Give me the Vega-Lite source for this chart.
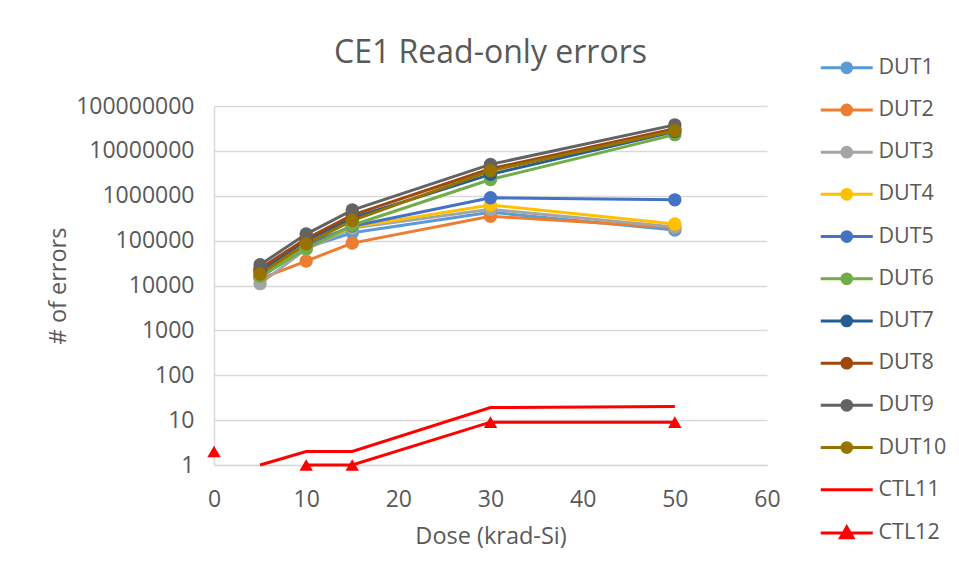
{
  "$schema": "https://vega.github.io/schema/vega-lite/v6.json",
  "autosize": {"type": "none"},
  "width": 553,
  "height": 359,
  "padding": {"left": 214, "top": 106, "right": 192, "bottom": 115},
  "background": "white",
  "title": {"text": "CE1 Read-only errors", "font": "Open Sans", "fontSize": 32, "fontWeight": "normal", "color": "#595959", "anchor": "middle", "offset": 30, "dy": 43},
  "data": {"values": [
    {"dose": 5, "errors": 15000, "series": "DUT1"},
    {"dose": 10, "errors": 70000, "series": "DUT1"},
    {"dose": 15, "errors": 150000, "series": "DUT1"},
    {"dose": 30, "errors": 430000, "series": "DUT1"},
    {"dose": 50, "errors": 172000, "series": "DUT1"},
    {"dose": 5, "errors": 14000, "series": "DUT2"},
    {"dose": 10, "errors": 35000, "series": "DUT2"},
    {"dose": 15, "errors": 88000, "series": "DUT2"},
    {"dose": 30, "errors": 350000, "series": "DUT2"},
    {"dose": 50, "errors": 195000, "series": "DUT2"},
    {"dose": 5, "errors": 11000, "series": "DUT3"},
    {"dose": 10, "errors": 65000, "series": "DUT3"},
    {"dose": 15, "errors": 190000, "series": "DUT3"},
    {"dose": 30, "errors": 500000, "series": "DUT3"},
    {"dose": 50, "errors": 200000, "series": "DUT3"},
    {"dose": 5, "errors": 17000, "series": "DUT4"},
    {"dose": 10, "errors": 75000, "series": "DUT4"},
    {"dose": 15, "errors": 200000, "series": "DUT4"},
    {"dose": 30, "errors": 620000, "series": "DUT4"},
    {"dose": 50, "errors": 235000, "series": "DUT4"},
    {"dose": 5, "errors": 20000, "series": "DUT5"},
    {"dose": 10, "errors": 80000, "series": "DUT5"},
    {"dose": 15, "errors": 210000, "series": "DUT5"},
    {"dose": 30, "errors": 900000, "series": "DUT5"},
    {"dose": 50, "errors": 810000, "series": "DUT5"},
    {"dose": 5, "errors": 16000, "series": "DUT6"},
    {"dose": 10, "errors": 66000, "series": "DUT6"},
    {"dose": 15, "errors": 220000, "series": "DUT6"},
    {"dose": 30, "errors": 2300000, "series": "DUT6"},
    {"dose": 50, "errors": 23000000, "series": "DUT6"},
    {"dose": 5, "errors": 22000, "series": "DUT7"},
    {"dose": 10, "errors": 100000, "series": "DUT7"},
    {"dose": 15, "errors": 320000, "series": "DUT7"},
    {"dose": 30, "errors": 3000000, "series": "DUT7"},
    {"dose": 50, "errors": 27000000, "series": "DUT7"},
    {"dose": 5, "errors": 24000, "series": "DUT8"},
    {"dose": 10, "errors": 110000, "series": "DUT8"},
    {"dose": 15, "errors": 370000, "series": "DUT8"},
    {"dose": 30, "errors": 4000000, "series": "DUT8"},
    {"dose": 50, "errors": 31000000, "series": "DUT8"},
    {"dose": 5, "errors": 29000, "series": "DUT9"},
    {"dose": 10, "errors": 140000, "series": "DUT9"},
    {"dose": 15, "errors": 480000, "series": "DUT9"},
    {"dose": 30, "errors": 5000000, "series": "DUT9"},
    {"dose": 50, "errors": 38000000, "series": "DUT9"},
    {"dose": 5, "errors": 18000, "series": "DUT10"},
    {"dose": 10, "errors": 85000, "series": "DUT10"},
    {"dose": 15, "errors": 280000, "series": "DUT10"},
    {"dose": 30, "errors": 3600000, "series": "DUT10"},
    {"dose": 50, "errors": 28000000, "series": "DUT10"},
    {"dose": 5, "errors": 1, "series": "CTL11"},
    {"dose": 10, "errors": 2, "series": "CTL11"},
    {"dose": 15, "errors": 2, "series": "CTL11"},
    {"dose": 30, "errors": 19, "series": "CTL11"},
    {"dose": 50, "errors": 20, "series": "CTL11"},
    {"dose": 0, "errors": 2, "series": "CTL12"},
    {"dose": 5, "errors": null, "series": "CTL12"},
    {"dose": 10, "errors": 1, "series": "CTL12"},
    {"dose": 15, "errors": 1, "series": "CTL12"},
    {"dose": 30, "errors": 9, "series": "CTL12"},
    {"dose": 50, "errors": 9, "series": "CTL12"}
  ]},
  "encoding": {
    "x": {"field": "dose", "type": "quantitative",
      "scale": {"domain": [0, 60], "nice": false, "zero": false},
      "axis": {"title": "Dose (krad-Si)", "values": [0, 10, 20, 30, 40, 50, 60], "grid": false, "labelFlush": false, "labelPadding": 23, "titlePadding": 13}},
    "y": {"field": "errors", "type": "quantitative",
      "scale": {"type": "log", "domain": [1, 100000000], "nice": false},
      "axis": {"title": "# of errors", "values": [1, 10, 100, 1000, 10000, 100000, 1000000, 10000000, 100000000], "format": "d", "labelPadding": 20, "titlePadding": 5}},
    "color": {"field": "series", "type": "nominal",
      "scale": {"domain": ["DUT1", "DUT2", "DUT3", "DUT4", "DUT5", "DUT6", "DUT7", "DUT8", "DUT9", "DUT10", "CTL11", "CTL12"],
        "range": ["#5B9BD5", "#ED7D31", "#A5A5A5", "#FFC000", "#4472C4", "#70AD47", "#255E91", "#9E480E", "#636363", "#997300", "#FF0000", "#FF0000"]},
      "legend": {"title": null, "orient": "none", "legendX": 622, "legendY": -49,
        "labelOffset": 21, "rowPadding": 19.2, "padding": 0,
        "encode": {"symbols": {"update": {
          "shape": {"signal": "datum.value === 'CTL11' ? 'M-4,0H4' : datum.value === 'CTL12' ? 'M-4,0H4M0,-0.9L0.95,0.75L-0.95,0.75Z' : 'M-4,0H4M-0.75,0A0.75,0.75 0 1,1 0.75,0A0.75,0.75 0 1,1 -0.75,0Z'"},
          "fill": {"scale": "color", "field": "value"},
          "stroke": {"scale": "color", "field": "value"},
          "strokeWidth": {"value": 3},
          "size": {"value": 169},
          "opacity": {"value": 1},
          "fillOpacity": {"value": 1}
        }}}}}
  },
  "layer": [
    {"mark": {"type": "line", "strokeWidth": 3, "invalid": "break-paths-filter-domains"}},
    {"transform": [{"filter": "datum.series !== 'CTL11' && datum.errors != null"}],
     "mark": {"type": "point", "filled": true, "opacity": 1},
     "encoding": {
       "shape": {"field": "series", "type": "nominal",
         "scale": {"domain": ["DUT1", "DUT2", "DUT3", "DUT4", "DUT5", "DUT6", "DUT7", "DUT8", "DUT9", "DUT10", "CTL12"],
           "range": ["circle", "circle", "circle", "circle", "circle", "circle", "circle", "circle", "circle", "circle", "triangle-up"]},
         "legend": null},
       "size": {"field": "series", "type": "nominal",
         "scale": {"domain": ["DUT1", "DUT2", "DUT3", "DUT4", "DUT5", "DUT6", "DUT7", "DUT8", "DUT9", "DUT10", "CTL12"],
           "range": [180, 180, 180, 180, 180, 180, 180, 180, 180, 180, 260]},
         "legend": null}
     }}
  ],
  "config": {
    "view": {"stroke": null},
    "axis": {"labelFont": "Open Sans", "labelFontSize": 23, "labelColor": "#595959",
      "titleFont": "Open Sans", "titleFontSize": 23.5, "titleFontWeight": "normal", "titleColor": "#595959",
      "gridColor": "#D9D9D9", "gridWidth": 1.5, "domainColor": "#D9D9D9", "domainWidth": 1.5, "ticks": false},
    "legend": {"labelFont": "Open Sans", "labelFontSize": 21.5, "labelColor": "#595959"}
  }
}
